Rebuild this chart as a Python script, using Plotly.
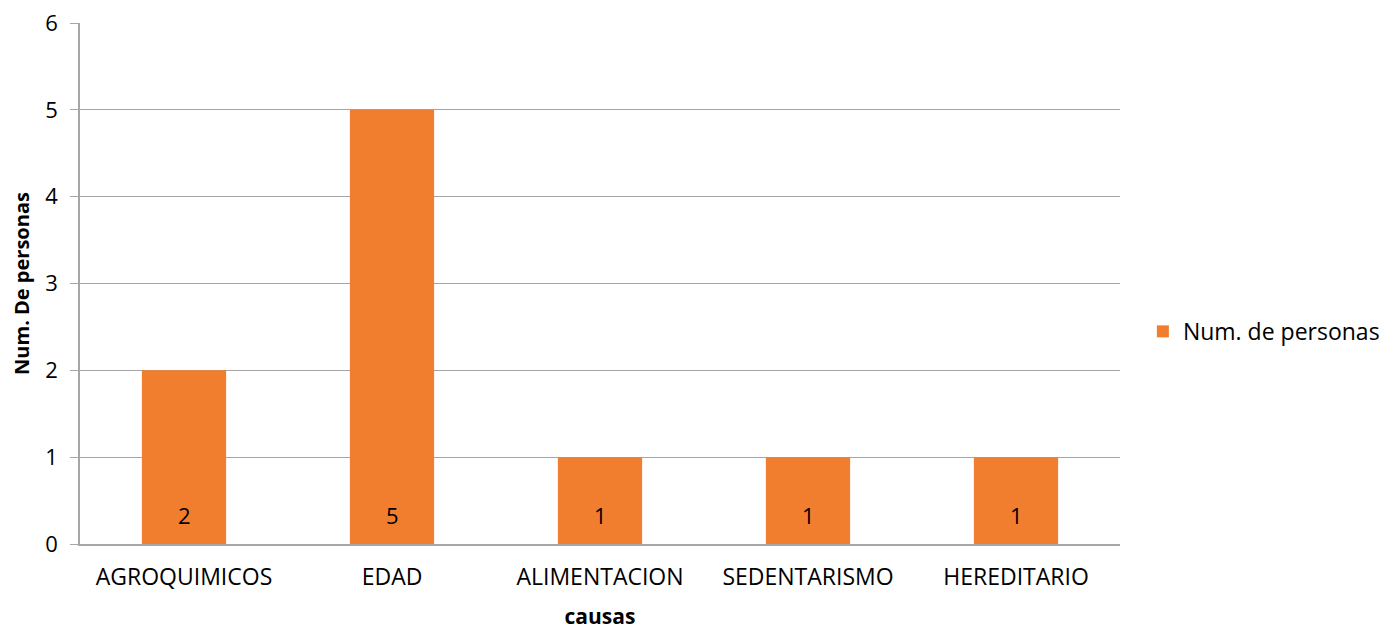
import plotly.graph_objects as go

categories = ["AGROQUIMICOS", "EDAD", "ALIMENTACION", "SEDENTARISMO", "HEREDITARIO"]
values = [2, 5, 1, 1, 1]
series_name = "Num. de personas"

FONT = "Open Sans, Lato, Liberation Sans, sans-serif"

fig = go.Figure()
fig.add_trace(go.Bar(
    x=categories, y=values, name=series_name,
    marker=dict(color="#F17E2E", line=dict(width=0)),
    width=0.405,
))

for c, v in zip(categories, values):
    fig.add_annotation(x=c, y=0, text=str(v), showarrow=False,
                       yanchor="bottom", yshift=12,
                       font=dict(family=FONT, size=22, color="#000000"))

fig.update_layout(
    width=1396, height=630,
    margin=dict(l=72, r=284, t=15, b=94),
    paper_bgcolor="white", plot_bgcolor="white",
    font=dict(family=FONT, size=23, color="#000000"),
    showlegend=True,
    legend=dict(x=1.022, y=0.408, xanchor="left", yanchor="middle",
                font=dict(family=FONT, size=23, color="#000000"),
                itemwidth=30),
    bargap=0.6,
    xaxis=dict(
        automargin=False,
        showline=True, linecolor="#A6A6A6", linewidth=1.5,
        ticks="", showgrid=False,
        ticklabelstandoff=12,
        tickfont=dict(family=FONT, size=23),
        title=dict(text="<b>causas</b>", font=dict(family=FONT, size=21), standoff=18),
    ),
    yaxis=dict(
        automargin=False,
        range=[0, 6], dtick=1, tick0=0,
        showgrid=True, gridcolor="#A6A6A6", gridwidth=1.2,
        showline=True, linecolor="#A6A6A6", linewidth=1.5,
        ticks="outside", ticklen=8, tickcolor="#A6A6A6",
        ticklabelstandoff=8, ticklabeloverflow="allow",
        zeroline=False,
        tickfont=dict(family=FONT, size=22),
        title=dict(text="<b>Num. De personas</b>", font=dict(family=FONT, size=20), standoff=26),
    ),
)

fig.write_html("out.html")
